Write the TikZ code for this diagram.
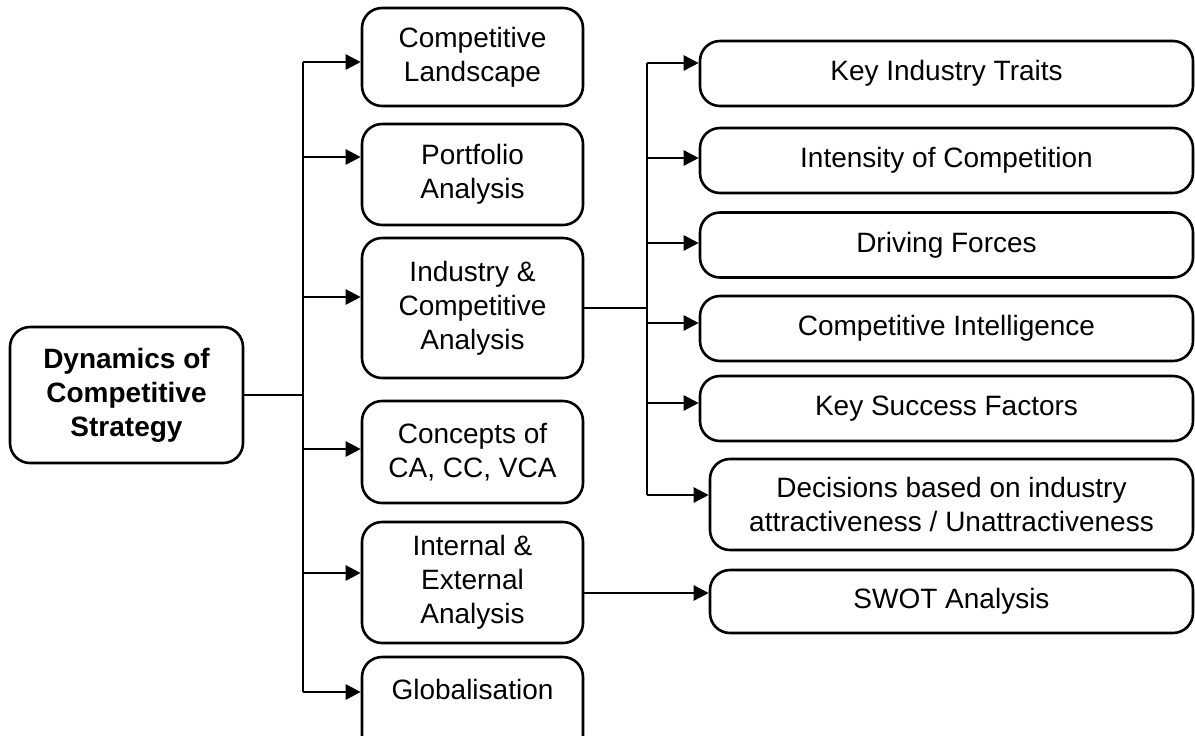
\documentclass[tikz,border=0pt]{standalone}
\usepackage{fontspec}
\setmainfont{Liberation Sans}
\usetikzlibrary{arrows.meta}

\begin{document}
\begin{tikzpicture}[x=0.5pt,y=-0.5pt,line width=1.3pt,
				every node/.style={box},
				box/.style={draw,rounded corners=10pt,align=center,inner sep=0pt,font=\fontsize{14}{17}\selectfont},
				root/.style={minimum width=116.5pt,minimum height=68pt,font=\fontsize{14}{17}\selectfont\bfseries},
				mid/.style={minimum width=110.5pt},
				side/.style={minimum width=246.5pt,minimum height=32.5pt},
				wide/.style={minimum width=241.5pt},
				arr/.style={-{Triangle[length=7.5pt,width=7.5pt]}}]
				\clip (0,0) rectangle (1195,735);
				\node[root] (DCS)  at (126.5,395)  {Dynamics of\\Competitive\\Strategy};
				\node[mid,minimum height=49pt]   (LAND) at (472.5,57)    {Competitive\\Landscape};
				\node[mid,minimum height=50.5pt] (PORT) at (472.5,174.5) {Portfolio\\Analysis};
				\node[mid,minimum height=70pt]   (INDU) at (472.5,308)   {Industry \&\\Competitive\\Analysis};
				\node[mid,minimum height=51pt]   (CONC) at (472.5,452)   {Concepts of\\CA, CC, VCA};
				\node[mid,minimum height=60.5pt] (INTE) at (472.5,582.5) {Internal \&\\External\\Analysis};
				\node[mid,minimum height=49pt]   (GLOB) at (472.5,706)   {Globalisation\\\mbox{}};
				\node[side] (KIT) at (946.5,73.5)  {Key Industry Traits};
				\node[side] (IOC) at (946.5,160.5) {Intensity of Competition};
				\node[side] (DFO) at (946.5,245)   {Driving Forces};
				\node[side] (CIN) at (946.5,328.5) {Competitive Intelligence};
				\node[side] (KSF) at (946.5,408.5) {Key Success Factors};
				\node[wide,minimum height=45.5pt] (DEC)  at (951.5,504.5) {Decisions based on industry\\attractiveness / Unattractiveness};
				\node[wide,minimum height=31.5pt] (SWOT) at (951.5,601.5) {SWOT Analysis};
				
				\coordinate (T) at (303,395);
				\coordinate (U) at (647,308);
				\draw (DCS.east) -- (T);
				\draw (INDU.east) -- (U);
				\foreach \n/\dy in {LAND/-2.5,PORT/8.75,INDU/5.5,CONC/1.5,INTE/4.75,GLOB/7}{
					\coordinate (A\n) at ([yshift=\dy pt]\n.west);
					\draw[arr] (A\n -| T) -- (A\n);
				}
				\foreach \n/\dy in {KIT/5.25,IOC/1.25,DFO/1,CIN/2.75,KSF/2.75,DEC/4.75}{
					\coordinate (B\n) at ([yshift=\dy pt]\n.west);
					\draw[arr] (B\n -| U) -- (B\n);
				}
				\draw (ALAND -| T) -- (AGLOB -| T);
				\draw (BKIT -| U) -- (BDEC -| U);
				\coordinate (S) at ([yshift=4.25pt]SWOT.west);
				\draw[arr] (S -| INTE.east) -- (S);
			\end{tikzpicture}
\end{document}
